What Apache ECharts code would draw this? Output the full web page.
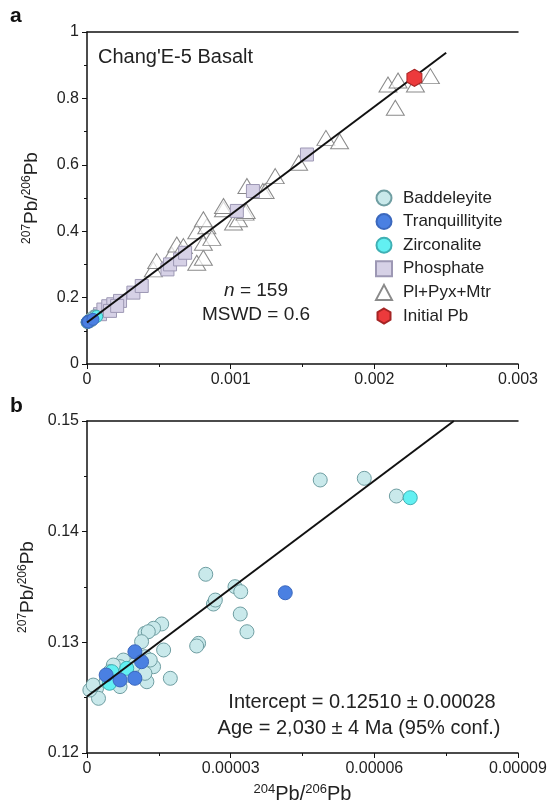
<!DOCTYPE html>
<html>
<head>
<meta charset="utf-8">
<script src="https://cdn.jsdelivr.net/npm/echarts@6/dist/echarts.min.js"></script>
<style>
  html, body { margin: 0; padding: 0; background: #fff; }
  #chart { width: 552px; height: 810px; }
</style>
</head>
<body>
<div id="chart"></div>
<script>
// data, [204Pb/206Pb, 207Pb/206Pb]
const baddeleyite = [
  [0.0000264, 0.13346], [0.0000320, 0.13256], [0.0000334, 0.13096], [0.0000233, 0.12991],
  [0.0000229, 0.12967], [0.0000156, 0.13166], [0.0000139, 0.13127], [0.0000121, 0.13082],
  [0.0000128, 0.13096], [0.0000160, 0.12931], [0.0000174, 0.12675], [0.0000125, 0.12644],
  [0.0000139, 0.12780], [0.0000121, 0.12870], [0.0000114, 0.13006], [0.0000076, 0.12840],
  [0.0000069, 0.12780], [0.0000055, 0.12795], [0.0000048, 0.12735], [0.0000069, 0.12600],
  [0.0000020, 0.12585], [0.0000024, 0.12494], [0.0000006, 0.12569], [0.0000013, 0.12614],
  [0.0000121, 0.12720], [0.0000132, 0.12840], [0.0000248, 0.13615], [0.0000268, 0.13382],
  [0.0000309, 0.13503], [0.0000321, 0.13458], [0.0000487, 0.14467], [0.0000579, 0.14482],
  [0.0000646, 0.14322], [0.0000090, 0.12700], [0.0000100, 0.12800], [0.0000040, 0.12650]
];
const tranquillityite = [
  [0.0000100, 0.12915], [0.0000114, 0.12825], [0.0000040, 0.12705], [0.0000069, 0.12660],
  [0.0000100, 0.12675], [0.0000414, 0.13448]
];
const zirconalite = [
  [0.0000083, 0.12765], [0.0000047, 0.12630], [0.0000052, 0.12735], [0.0000675, 0.14307]
];
const phosphate = [
  [0.0000906, 0.150], [0.000114, 0.164], [0.000148, 0.174], [0.000183, 0.180],
  [0.000230, 0.190], [0.000160, 0.160], [0.000210, 0.175], [0.000323, 0.215],
  [0.000381, 0.235], [0.000560, 0.285], [0.000578, 0.300], [0.000648, 0.315],
  [0.000683, 0.335], [0.001043, 0.461], [0.001155, 0.521], [0.001531, 0.631]
];
const plPyxMtr = [
  [0.000462, 0.285], [0.000485, 0.310], [0.000590, 0.330], [0.000625, 0.360],
  [0.000671, 0.355], [0.000764, 0.305], [0.000810, 0.320], [0.000764, 0.400],
  [0.000810, 0.365], [0.000834, 0.415], [0.000869, 0.380], [0.000810, 0.436],
  [0.000950, 0.466], [0.000950, 0.476], [0.001020, 0.426], [0.001054, 0.436],
  [0.001100, 0.456], [0.001108, 0.461], [0.001113, 0.536], [0.001224, 0.521],
  [0.001240, 0.521], [0.001310, 0.566], [0.001473, 0.606], [0.001663, 0.681],
  [0.001758, 0.671], [0.002095, 0.842], [0.002146, 0.772], [0.002165, 0.854],
  [0.002286, 0.842], [0.002390, 0.867]
];
const initialPb = [[0.002279, 0.862]];
const isochronA = [[0, 0.1251], [0.0025, 0.9376]];
const isochronB = [[0, 0.1251], [0.0000766, 0.150]];
const legendNames = ['Baddeleyite', 'Tranquillityite', 'Zirconalite', 'Phosphate', 'Pl+Pyx+Mtr', 'Initial Pb'];

const FONT = 'Liberation Sans, Arial, sans-serif';
const hexagon = 'path://M0,-1 L0.866,-0.5 L0.866,0.5 L0,1 L-0.866,0.5 L-0.866,-0.5 Z';

const chart = echarts.init(document.getElementById('chart'));

function bottomAxis(grid, max, interval, fmt, name) {
  return {
    type: 'value', gridIndex: grid, min: 0, max: max, interval: interval,
    axisLine: { lineStyle: { color: '#111', width: 1.5 } },
    axisTick: { inside: false, length: 5, lineStyle: { color: '#111' } },
    minorTick: { show: true, splitNumber: 2, length: 3, lineStyle: { color: '#111' } },
    splitLine: { show: false },
    axisLabel: { fontFamily: FONT, fontSize: 16, color: '#222', margin: 8, formatter: fmt },
    name: name || '', nameLocation: 'middle', nameGap: 30,
    nameTextStyle: {
      fontFamily: FONT, color: '#222',
      rich: {
        n: { fontFamily: FONT, fontSize: 20, lineHeight: 22, color: '#222' },
        s: { fontFamily: FONT, fontSize: 13, lineHeight: 13, verticalAlign: 'top', color: '#222' }
      }
    }
  };
}
function topAxis(grid) {
  return {
    type: 'value', gridIndex: grid, position: 'top',
    axisLine: { lineStyle: { color: '#111', width: 1.5 } },
    axisTick: { show: false }, axisLabel: { show: false }, splitLine: { show: false }
  };
}
function leftAxis(grid, min, max, interval, fmt) {
  return {
    type: 'value', gridIndex: grid, min: min, max: max, interval: interval,
    axisLine: { lineStyle: { color: '#111', width: 1.5 } },
    axisTick: { inside: false, length: 5, lineStyle: { color: '#111' } },
    minorTick: { show: true, splitNumber: 2, length: 3, lineStyle: { color: '#111' } },
    splitLine: { show: false },
    axisLabel: { fontFamily: FONT, fontSize: 16, color: '#222', margin: 8, formatter: fmt },
    name: '{s|207}{n|Pb/}{s|206}{n|Pb}', nameLocation: 'middle', nameRotate: 90, nameGap: 44,
    nameTextStyle: {
      fontFamily: FONT, color: '#222',
      rich: {
        n: { fontFamily: FONT, fontSize: 19, lineHeight: 22, color: '#222' },
        s: { fontFamily: FONT, fontSize: 12, lineHeight: 12, verticalAlign: 'top', color: '#222' }
      }
    }
  };
}

function scatter(name, data, xi, yi, symbol, size, fill, border, z) {
  return {
    name: name, type: 'scatter', xAxisIndex: xi, yAxisIndex: yi, data: data,
    symbol: symbol, symbolSize: size, z: z,
    itemStyle: { color: fill, borderColor: border, borderWidth: 1, opacity: 1 },
    emphasis: { disabled: true }
  };
}

const option = {
  backgroundColor: '#fff',
  animation: false,
  grid: [
    { left: 87, top: 32, width: 431, height: 332 },
    { left: 87, top: 421, width: 431, height: 332 }
  ],
  xAxis: [
    bottomAxis(0, 0.003, 0.001, v => v === 0 ? '0' : v.toFixed(3)),
    topAxis(0),
    bottomAxis(1, 0.00009, 0.00003, v => v === 0 ? '0' : v.toFixed(5), '{s|204}{n|Pb/}{s|206}{n|Pb}'),
    topAxis(1)
  ],
  yAxis: [
    leftAxis(0, 0, 1, 0.2, v => v === 0 ? '0' : (v === 1 ? '1' : v.toFixed(1))),
    leftAxis(1, 0.12, 0.15, 0.01, v => v.toFixed(2))
  ],
  legend: {
    data: legendNames, orient: 'vertical', left: 370, top: 184,
    itemWidth: 16, itemHeight: 15, itemGap: 5.6, selectedMode: false,
    textStyle: { fontFamily: FONT, fontSize: 17, lineHeight: 18, color: '#222', padding: [0, 0, 0, 6] }
  },
  graphic: [
    { type: 'text', left: 10, top: 6, style: { text: 'a', font: 'bold 21px ' + FONT, fill: '#111' } },
    { type: 'text', left: 10, top: 396, style: { text: 'b', font: 'bold 21px ' + FONT, fill: '#111' } },
    { type: 'text', left: 98, top: 47, style: { text: "Chang'E-5 Basalt", font: '20px ' + FONT, fill: '#222' } },
    {
      type: 'text', x: 256, y: 291,
      style: {
        text: '{i|n} = 159', font: '19px ' + FONT, fill: '#222', align: 'center', verticalAlign: 'middle',
        rich: { i: { fontStyle: 'italic', fontSize: 19, fontFamily: FONT } }
      }
    },
    { type: 'text', x: 256, y: 315, style: { text: 'MSWD = 0.6', font: '19px ' + FONT, fill: '#222', align: 'center', verticalAlign: 'middle' } },
    { type: 'text', x: 362, y: 702, style: { text: 'Intercept = 0.12510 \u00b1 0.00028', font: '20px ' + FONT, fill: '#222', align: 'center', verticalAlign: 'middle' } },
    { type: 'text', x: 359, y: 728, style: { text: 'Age = 2,030 \u00b1 4 Ma (95% conf.)', font: '20px ' + FONT, fill: '#222', align: 'center', verticalAlign: 'middle' } }
  ],
  series: [
    // panel a
    scatter('Pl+Pyx+Mtr', plPyxMtr, 0, 0, 'triangle', [18, 15], 'rgba(255,255,255,0.7)', '#8a8a8a', 2),
    scatter('Phosphate', phosphate, 0, 0, 'rect', 13, '#d6d1e6', '#9d98b4', 3),
    scatter('Baddeleyite', baddeleyite, 0, 0, 'circle', 12, '#c9e9eb', '#6f9ea2', 4),
    scatter('Zirconalite', zirconalite, 0, 0, 'circle', 12, '#62f0f2', '#3fb0b4', 5),
    scatter('Tranquillityite', tranquillityite, 0, 0, 'circle', 12, '#4a80e2', '#3b68bd', 6),
    scatter('Initial Pb', initialPb, 0, 0, hexagon, [15, 17], '#ec3a3c', '#a52424', 8),
    {
      type: 'line', xAxisIndex: 0, yAxisIndex: 0, data: isochronA, symbol: 'none', z: 7,
      lineStyle: { color: '#111', width: 2 }, silent: true
    },
    // panel b
    scatter('Baddeleyite', baddeleyite, 2, 1, 'circle', 14, '#c9e9eb', '#6f9ea2', 4),
    scatter('Zirconalite', zirconalite, 2, 1, 'circle', 14, '#62f0f2', '#3fb0b4', 5),
    scatter('Tranquillityite', tranquillityite, 2, 1, 'circle', 14, '#4a80e2', '#3b68bd', 6),
    {
      type: 'line', xAxisIndex: 2, yAxisIndex: 1, data: isochronB, symbol: 'none', z: 7,
      lineStyle: { color: '#111', width: 2 }, silent: true
    }
  ]
};

chart.setOption(option);
</script>
</body>
</html>
